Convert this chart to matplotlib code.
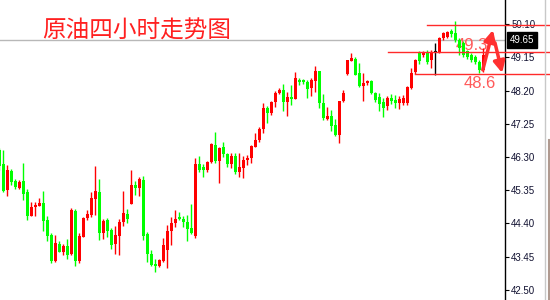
import matplotlib
matplotlib.use("Agg")
import matplotlib.pyplot as plt
from matplotlib.lines import Line2D
from matplotlib.transforms import blended_transform_factory

# 4小时K线 (开, 高, 低, 收)
opens = [46.50, 46.10, 45.36, 45.90, 45.61, 45.41, 45.61, 45.30, 44.61, 44.87,
         44.90, 44.99, 44.50, 44.07, 43.33, 43.81, 43.59, 43.76, 43.53, 44.76,
         43.33, 44.01, 44.56, 44.64, 45.10, 45.30, 44.13, 44.50, 44.21, 43.81,
         44.04, 44.44, 44.67, 44.96, 45.50, 45.41, 45.64, 44.10, 43.53, 43.24,
         43.19, 43.33, 43.64, 44.19, 44.41, 44.59, 44.53, 44.44, 44.27, 44.04,
         46.10, 46.01, 45.93, 46.16, 46.64, 46.19, 46.59, 46.39, 46.10, 46.33,
         45.87, 45.99, 46.21, 46.27, 46.59, 46.79, 47.10, 47.70, 47.56, 47.87,
         48.13, 48.21, 47.87, 48.01, 47.96, 48.50, 48.50, 48.44, 48.27, 48.47,
         48.76, 47.84, 47.39, 47.47, 47.21, 46.93, 47.90, 48.67, 49.04, 49.10,
         48.70, 48.33, 48.41, 48.47, 48.13, 48.01, 47.87, 47.76, 47.99, 47.93,
         47.84, 47.84, 47.84, 48.27, 48.73, 49.27, 49.21, 49.27, 49.07, 49.30,
         49.27, 49.70, 49.73, 49.90, 49.84, 49.64, 49.56, 49.33, 49.21, 49.16,
         49.01, 48.79]
highs = [46.56, 46.50, 46.07, 45.96, 45.67, 45.64, 46.13, 45.39, 45.01, 45.01,
         45.13, 45.33, 44.61, 44.13, 44.07, 43.90, 43.81, 43.96, 44.84, 44.81,
         44.13, 44.59, 44.79, 45.30, 46.04, 45.67, 44.53, 44.56, 44.27, 44.33,
         44.53, 45.33, 44.81, 45.93, 45.61, 45.73, 45.76, 44.16, 43.64, 43.39,
         43.39, 43.99, 44.36, 44.59, 44.79, 44.73, 44.61, 44.64, 44.96, 46.27,
         46.33, 46.10, 46.19, 46.70, 47.01, 46.59, 46.73, 46.41, 46.41, 46.41,
         46.41, 46.33, 46.36, 46.64, 46.99, 47.16, 47.84, 47.76, 47.90, 48.19,
         48.27, 48.39, 48.16, 48.36, 48.73, 48.56, 48.53, 48.50, 48.56, 48.90,
         48.76, 48.10, 47.73, 47.64, 47.39, 47.90, 48.21, 49.07, 49.27, 49.16,
         48.99, 48.70, 48.50, 48.50, 48.16, 48.13, 47.99, 48.04, 48.10, 48.07,
         48.04, 48.07, 48.33, 48.84, 49.10, 49.33, 49.33, 49.36, 49.36, 49.56,
         49.73, 49.87, 49.90, 49.96, 50.19, 49.70, 49.61, 49.36, 49.27, 49.21,
         49.07, 49.41]
lows = [45.93, 45.30, 45.19, 45.50, 45.39, 45.39, 45.07, 44.50, 44.61, 44.61,
        44.90, 44.19, 43.90, 43.27, 43.30, 43.59, 43.50, 43.39, 43.50, 43.19,
        43.27, 44.01, 44.50, 44.59, 44.64, 43.93, 43.96, 44.01, 43.67, 43.53,
        43.50, 44.33, 44.41, 44.96, 45.21, 45.19, 43.93, 43.30, 43.19, 43.01,
        43.16, 43.30, 43.13, 43.79, 44.30, 44.50, 44.30, 43.90, 44.10, 43.99,
        45.87, 45.73, 45.87, 46.13, 46.13, 45.56, 46.30, 46.01, 45.99, 45.81,
        45.73, 45.70, 46.07, 46.13, 46.59, 46.73, 46.99, 47.27, 47.50, 47.73,
        48.10, 47.61, 47.47, 47.79, 47.96, 48.36, 48.39, 47.99, 48.04, 48.16,
        47.70, 47.36, 47.36, 47.04, 46.90, 46.70, 47.87, 48.64, 49.04, 48.64,
        48.30, 47.90, 48.36, 48.10, 47.87, 47.61, 47.44, 47.64, 47.81, 47.70,
        47.67, 47.79, 47.79, 48.24, 48.67, 48.96, 49.16, 48.96, 48.84, 48.64,
        49.27, 49.64, 49.70, 49.73, 49.59, 49.21, 49.16, 49.10, 49.01, 48.96,
        48.70, 48.73]
closes = [46.04, 45.33, 45.93, 45.59, 45.44, 45.59, 45.24, 44.61, 44.87, 44.93,
          44.99, 44.47, 44.04, 43.33, 43.84, 43.59, 43.76, 43.50, 44.79, 43.33,
          44.04, 44.56, 44.67, 45.13, 45.33, 44.13, 44.47, 44.19, 43.79, 44.07,
          44.44, 44.70, 44.53, 45.50, 45.41, 45.67, 44.04, 43.53, 43.21, 43.19,
          43.36, 43.79, 44.19, 44.41, 44.53, 44.53, 44.44, 44.24, 44.13, 46.10,
          45.93, 45.93, 46.16, 46.67, 46.19, 46.56, 46.39, 46.10, 46.33, 45.87,
          46.01, 46.21, 46.27, 46.61, 46.79, 47.10, 47.70, 47.56, 47.87, 48.13,
          48.21, 47.87, 48.01, 47.96, 48.56, 48.44, 48.44, 48.24, 48.50, 48.76,
          47.84, 47.41, 47.47, 47.19, 46.93, 47.90, 48.13, 49.07, 49.13, 48.64,
          48.33, 48.41, 48.47, 48.13, 47.93, 47.81, 47.70, 47.99, 47.90, 47.84,
          47.96, 47.99, 48.30, 48.70, 49.07, 49.04, 49.27, 49.01, 49.30, 49.30,
          49.70, 49.84, 49.87, 49.81, 49.64, 49.41, 49.21, 49.16, 49.07, 49.01,
          48.79, 49.21]

y_ticks = [42.50, 43.45, 44.40, 45.35, 46.30, 47.25, 48.20, 49.15, 50.10]
last_price = 49.65

# 画的水平线 (价位, 起点K线)
level_prices = [50.07, 49.31, 48.67]
level_starts = [106.9, 97.2, 103.9]

title = "原油四小时走势图"

fig = plt.figure(figsize=(5.5, 3), dpi=100)
ax = fig.add_axes([0, 0, 505 / 550, 1])
ax.set_xlim(0.175, 126.4)
ax.set_ylim(42.214, 50.786)

x = list(range(len(opens)))
colors = []
bottoms = []
heights = []
for o, c in zip(opens, closes):
    if c > o:
        colors.append("#ff0000")
    elif c < o:
        colors.append("#00ff00")
    else:
        colors.append("#000000")
    bottoms.append(min(o, c))
    heights.append(max(abs(c - o), 0.03))

ax.vlines(x, lows, highs, colors=colors, linewidth=1.0, zorder=3)
ax.bar(x, heights, bottom=bottoms, width=0.75, color=colors, linewidth=0, zorder=4)

# 当前价格线
ax.axhline(last_price, color="#b8b8b8", lw=1, zorder=1)

# 红色水平线
for lvl, xs in zip(level_prices, level_starts):
    ax.plot([xs, 140], [lvl, lvl], color="#ff2a2a", lw=1, clip_on=False, zorder=5)

ax.text(118.0, 49.50, "49.3", color="#ff5a5a", fontsize=12, family="Liberation Sans",
        ha="center", va="center", zorder=2)
ax.text(120.2, 48.39, "48.6", color="#ff5a5a", fontsize=12, family="Liberation Sans",
        ha="center", va="center", zorder=2)

# 手绘箭头
arr = dict(arrowstyle="-|>", color="#ff3030", lw=2.5, mutation_scale=17, shrinkA=0, shrinkB=0)
ax.annotate("", xy=(123.4, 49.93), xytext=(120.85, 48.79), arrowprops=arr, annotation_clip=False, zorder=6)
ax.annotate("", xy=(125.7, 48.70), xytext=(123.9, 49.56), arrowprops=arr, annotation_clip=False, zorder=6)

# 坐标轴
for s in ["top", "left", "bottom"]:
    ax.spines[s].set_visible(False)
ax.spines["right"].set_color("black")
ax.spines["right"].set_linewidth(1)
ax.set_xticks([])
ax.yaxis.tick_right()
ax.set_yticks(y_ticks)
ax.set_yticklabels([f"{v:.2f}" for v in y_ticks], family="Liberation Sans")
ax.tick_params(axis="y", length=3, width=0.8, pad=1.5, labelsize=7, labelcolor="#101030")

trans = blended_transform_factory(ax.transAxes, ax.transData)
ax.text(1.009, last_price, f"{last_price:.2f}", transform=trans, color="white", fontsize=7,
        family="Liberation Sans", ha="left", va="center", clip_on=False, zorder=7,
        bbox=dict(facecolor="black", edgecolor="black", boxstyle="square,pad=0.3"))

# 右边框
fig.add_artist(Line2D([545 / 550, 545 / 550], [0, 1], color="#c8c8c8", lw=1, transform=fig.transFigure))
fig.add_artist(Line2D([548.5 / 550, 548.5 / 550], [0, 1 - 140 / 300], color="#b09a90", lw=1.5,
                      transform=fig.transFigure))

fig.text(42 / 550, 1 - 31.5 / 300, title, color="#ff2020", fontsize=17, fontweight="light",
         family=["Noto Sans CJK SC", "DejaVu Sans"], ha="left", va="center")

fig.savefig("out.png", dpi=100, facecolor="white")
